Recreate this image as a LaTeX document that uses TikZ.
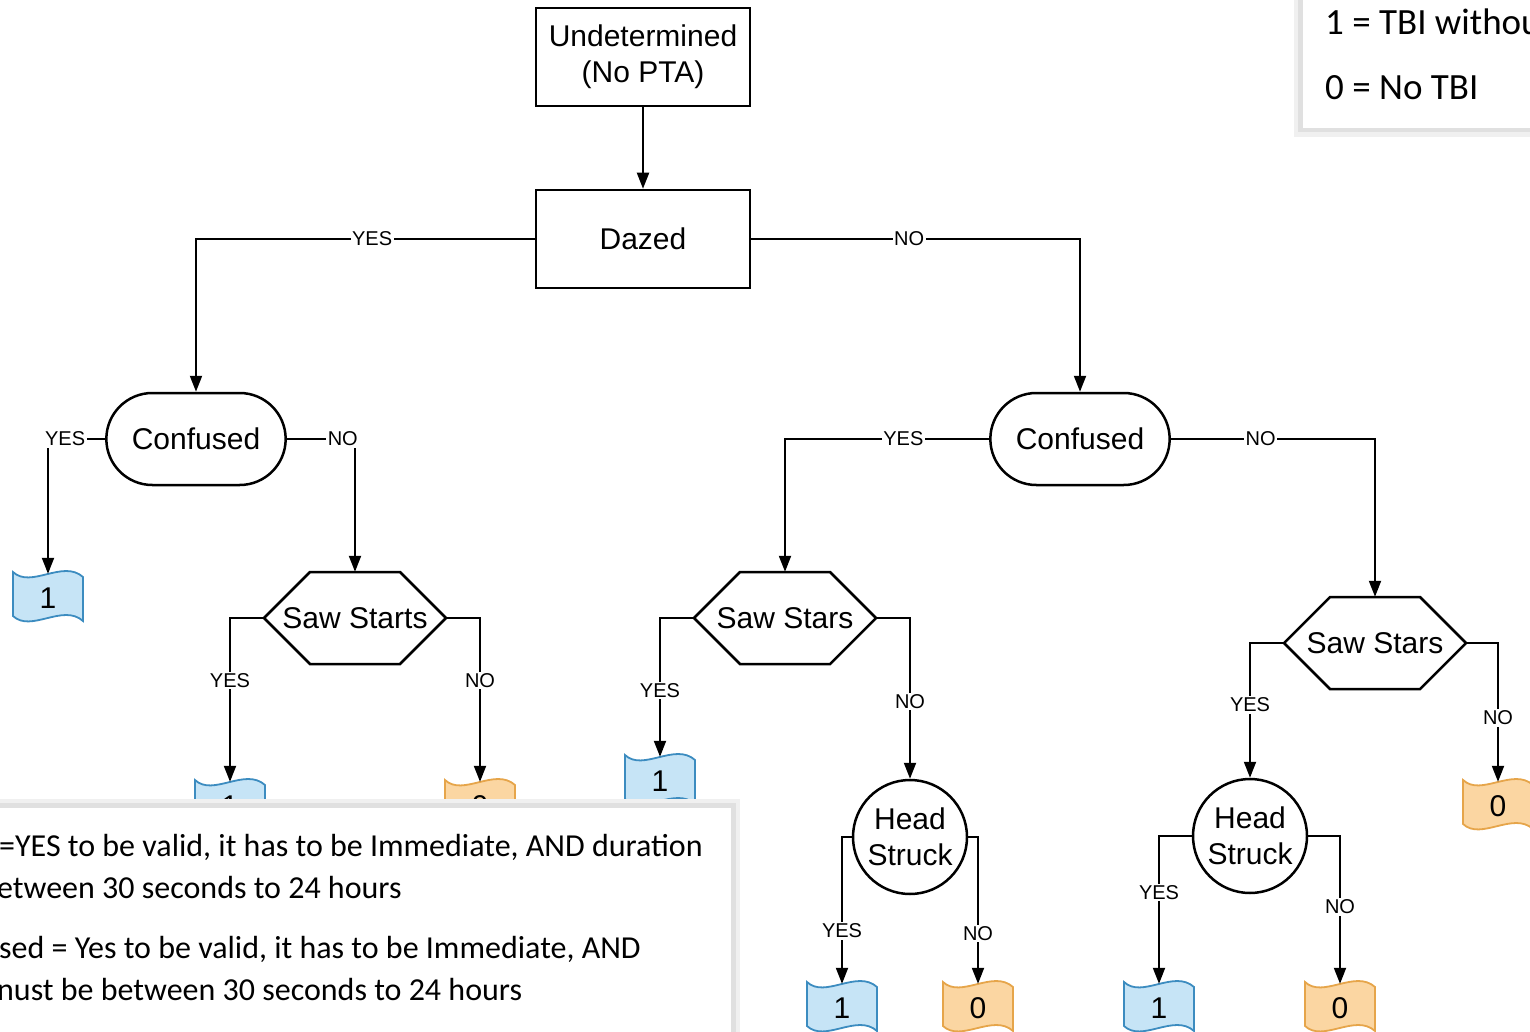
\documentclass[tikz,border=0pt]{standalone}
\usepackage{fontspec}
\setmainfont{Liberation Sans}
\newfontfamily\notefont{Carlito}
\usetikzlibrary{arrows.meta,shapes.misc}

\definecolor{oneFill}{HTML}{C6E4F6}
\definecolor{oneLine}{HTML}{3C8CC0}
\definecolor{zeroFill}{HTML}{FBD6A2}
\definecolor{zeroLine}{HTML}{E6A54A}

\tikzset{
  box/.style={draw, line width=2.5pt, minimum width=214pt, minimum height=98pt, align=center, font=\fontsize{30}{36}\selectfont},
  pill/.style={rounded rectangle, draw, line width=2.5pt, minimum width=186pt, minimum height=92pt, font=\fontsize{30}{36}\selectfont},
  headc/.style={circle, draw, line width=2.5pt, minimum size=114pt, inner sep=0pt, align=center, font=\fontsize{30}{36}\selectfont},
  hexa/.style={minimum width=182pt, minimum height=92pt, inner sep=0pt, font=\fontsize{30}{36}\selectfont},
  flagtext/.style={minimum width=70pt, minimum height=48pt, inner sep=0pt, font=\fontsize{30}{30}\selectfont},
  link/.style={line width=2pt, -{Triangle[length=16pt,width=12pt]}},
  tag/.style={fill=white, inner sep=1.5pt, font=\fontsize{20}{20}\selectfont},
  notetext/.style={anchor=base west, inner sep=0pt, font=\notefont\fontsize{32}{38}\selectfont},
}

% hexagon decision: name, x, y, text
\newcommand{\hexnode}[4]{%
  \draw[line width=2.5pt] (#2-91,#3) -- (#2-45,#3-46) -- (#2+45,#3-46) -- (#2+91,#3) -- (#2+45,#3+46) -- (#2-45,#3+46) -- cycle;
  \node[hexa] (#1) at (#2,#3) {#4};}

% wavy result flag: name, x, y, one/zero, text
\newcommand{\flagnode}[5]{%
  \begin{scope}[shift={(#2,#3)}]
    \draw[line width=1.8pt, draw=#4Line, fill=#4Fill] (-35,-25) .. controls (-17,-8) and (15,-38) .. (35,-20) -- (35,24) .. controls (15,6) and (-17,36) .. (-35,19) -- cycle;
  \end{scope}
  \node[flagtext] (#1) at (#2,#3+1) {#5};}

\begin{document}
\begin{tikzpicture}[x=1pt,y=-1pt]
\useasboundingbox (0,0) rectangle (1530,1032);

\node[box] (undet) at (643,57) {Undetermined\\(No PTA)};
\node[box] (dazed) at (643,239) {Dazed};
\node[pill] (confL) at (196,439) {Confused};
\node[pill] (confR) at (1080,439) {Confused};
\hexnode{sawL}{355}{618}{Saw Starts}
\hexnode{sawM}{785}{618}{Saw Stars}
\hexnode{sawR}{1375}{643}{Saw Stars}
\node[headc] (headM) at (910,837) {Head\\Struck};
\node[headc] (headR) at (1250,836) {Head\\Struck};

\flagnode{oneA}{48}{597}{one}{1}
\flagnode{oneB}{230}{805}{one}{1}
\flagnode{zeroB}{480}{805}{zero}{0}
\flagnode{oneC}{660}{780}{one}{1}
\flagnode{oneD}{842}{1007}{one}{1}
\flagnode{zeroD}{978}{1007}{zero}{0}
\flagnode{zeroE}{1498}{805}{zero}{0}
\flagnode{oneF}{1159}{1007}{one}{1}
\flagnode{zeroF}{1340}{1007}{zero}{0}

\draw[link] (undet) -- (dazed);
\draw[link] (dazed.west) -| node[tag,pos=.24] {YES} (confL.north);
\draw[link] (dazed.east) -| node[tag,pos=.24] {NO} (confR.north);

\draw[link] (confL.west) -| node[tag,pos=.35] {YES} (oneA.north);
\draw[link] (confL.east) -| node[tag,pos=.41] {NO} (sawL.north);
\draw[link] (confR.west) -| node[tag,pos=.21] {YES} (sawM.north);
\draw[link] (confR.east) -| node[tag,pos=.22] {NO} (sawR.north);

\draw[link] (sawL.west) -| node[tag,pos=.69] {YES} (oneB.north);
\draw[link] (sawL.east) -| node[tag,pos=.69] {NO} (zeroB.north);
\draw[link] (sawM.west) -| node[tag,pos=.76] {YES} (oneC.north);
\draw[link] (sawM.east) -| node[tag,pos=.76] {NO} (headM.north);
\draw[link] (sawR.west) -| node[tag,pos=.73] {YES} (headR.north);
\draw[link] (sawR.east) -| node[tag,pos=.77] {NO} (zeroE.north);

\draw[link] (headM.west) -| node[tag,pos=.82] {YES} (oneD.north);
\draw[link] (headM.east) -| node[tag,pos=.83] {NO} (zeroD.north);
\draw[link] (headR.west) -| node[tag,pos=.69] {YES} (oneF.north);
\draw[link] (headR.east) -| node[tag,pos=.74] {NO} (zeroF.north);

% legend, top right
\fill[black!6] (1294,-10) rectangle (1540,137);
\fill[black!12] (1298,-10) rectangle (1540,132);
\fill[white] (1303,-10) rectangle (1540,128);
\node[notetext, font=\notefont\fontsize{37}{42}\selectfont] (keyOne) at (1325,35) {1 = TBI withou};
\node[notetext, font=\notefont\fontsize{37}{42}\selectfont] (keyZero) at (1325,100) {0 = No TBI};

% note, bottom left
\fill[black!6] (-10,799) rectangle (740,1040);
\fill[black!12] (-10,803) rectangle (736,1040);
\fill[white] (-10,808) rectangle (731,1040);
\node[notetext] (noteA) at (-1,856) {=YES to be valid, it has to be Immediate, AND duration};
\node[notetext] (noteB) at (-3,898) {etween 30 seconds to 24 hours};
\node[notetext] (noteC) at (-1,958) {sed = Yes to be valid, it has to be Immediate, AND};
\node[notetext] (noteD) at (-3,1000) {nust be between 30 seconds to 24 hours};
\end{tikzpicture}
\end{document}
